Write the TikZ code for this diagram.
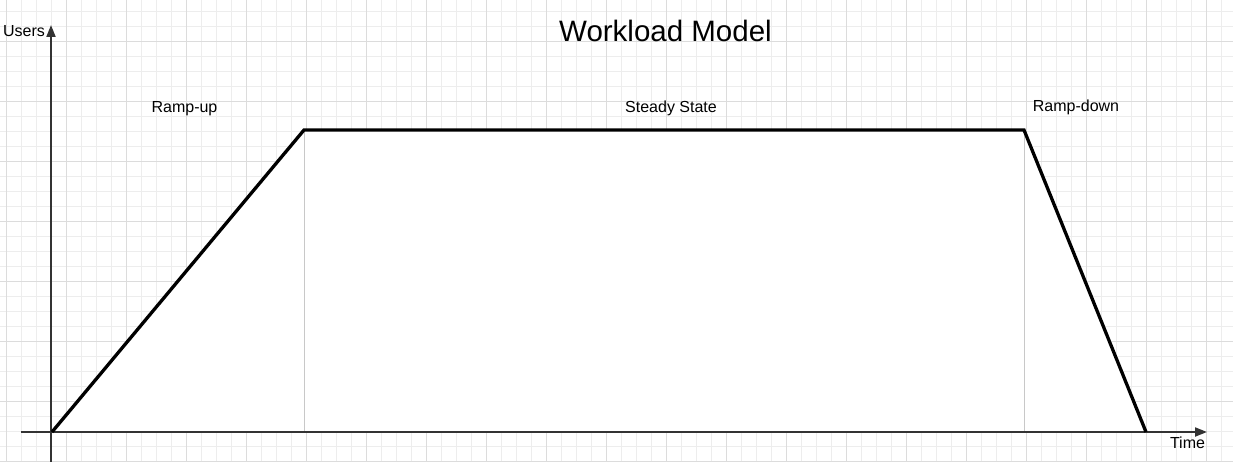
\documentclass[tikz,border=0pt]{standalone}
\usepackage{fontspec}
\setmainfont{Liberation Sans}
\usepackage{tikz}
\usetikzlibrary{positioning}
\usetikzlibrary{arrows.meta}

\definecolor{gridminor}{HTML}{EDEDED}
\definecolor{gridmajor}{HTML}{DCDCDC}
\definecolor{axisgray}{HTML}{333333}
\definecolor{splitgray}{HTML}{C8C8C8}

\tikzset{
	phaselabel/.style={anchor=base, inner sep=0pt, font=\fontsize{16}{19}\selectfont},
	titlelabel/.style={anchor=base, inner sep=0pt, font=\fontsize{29.5}{34}\selectfont},
	axisline/.style={line width=2pt, color=axisgray, -{Triangle[length=12pt,width=9pt]}},
	loadline/.style={line width=3.3pt, line join=miter},
	splitline/.style={line width=1pt, color=splitgray},
}

\begin{document}
\begin{tikzpicture}[x=1pt, y=-1pt]
	
	% ------------------------------------------------
	% Ensure the dimensions of graphic are appropriate
	\useasboundingbox (0,0) rectangle (1233,462);
	\fill[white] (0,0) rectangle (1233,462);
	
	% ------------------------------------------------
	% Background grid
	\foreach \i in {0,...,82}
		\draw[gridminor, line width=1pt] (6.7+15*\i,0) -- (6.7+15*\i,462);
	\foreach \i in {-1,...,30}
		\draw[gridminor, line width=1pt] (0,11.7+15*\i) -- (1233,11.7+15*\i);
	\foreach \i in {0,...,20}
		\draw[gridmajor, line width=1pt] (6.7+60*\i,0) -- (6.7+60*\i,462);
	\foreach \i in {0,...,7}
		\draw[gridmajor, line width=1pt] (0,41.7+60*\i) -- (1233,41.7+60*\i);
	
	% ------------------------------------------------
	% Relevant coordinates
	\coordinate (Beg)       at (52,432);
	\coordinate (RampTop)   at (304,130);
	\coordinate (SteadyEnd) at (1024,130);
	\coordinate (End)       at (1146,432);
	
	\path (RampTop)   +(0,302) coordinate (RampTopFoot);
	\path (SteadyEnd) +(0,302) coordinate (SteadyEndFoot);
	
	\coordinate (YAxisBeg) at (51,462);
	\coordinate (YAxisEnd) at (51,25);
	\coordinate (XAxisBeg) at (21,432);
	\coordinate (XAxisEnd) at (1207,432);
	
	% ----------------
	% Labels
	\node[titlelabel] (Title)      at (665.5,42)  {Workload Model};
	\node[phaselabel] (UsersLabel) at (24,37)     {Users};
	\node[phaselabel] (TimeLabel)  at (1187.5,448) {Time};
	\node[phaselabel] (RampUp)     at (184.5,113) {Ramp-up};
	\node[phaselabel] (Steady)     at (671,113)   {Steady State};
	\node[phaselabel] (RampDown)   at (1076,112)  {Ramp-down};
	
	%%%%%%%%%%%%%%%%%%%%%%%%%%%%%%%%%%%%%%%%%
	%Diagram
	\fill[white] (Beg) -- (RampTop) -- (SteadyEnd) -- (End) -- cycle;
	
	\draw[splitline] (RampTop) -- (RampTopFoot);
	\draw[splitline] (SteadyEnd) -- (SteadyEndFoot);
	
	\draw[axisline] (YAxisBeg) -- (YAxisEnd);
	\draw[axisline] (XAxisBeg) -- (XAxisEnd);
	
	\draw[loadline] (Beg) -- (RampTop) -- (SteadyEnd) -- (End);
	
\end{tikzpicture}
\end{document}
